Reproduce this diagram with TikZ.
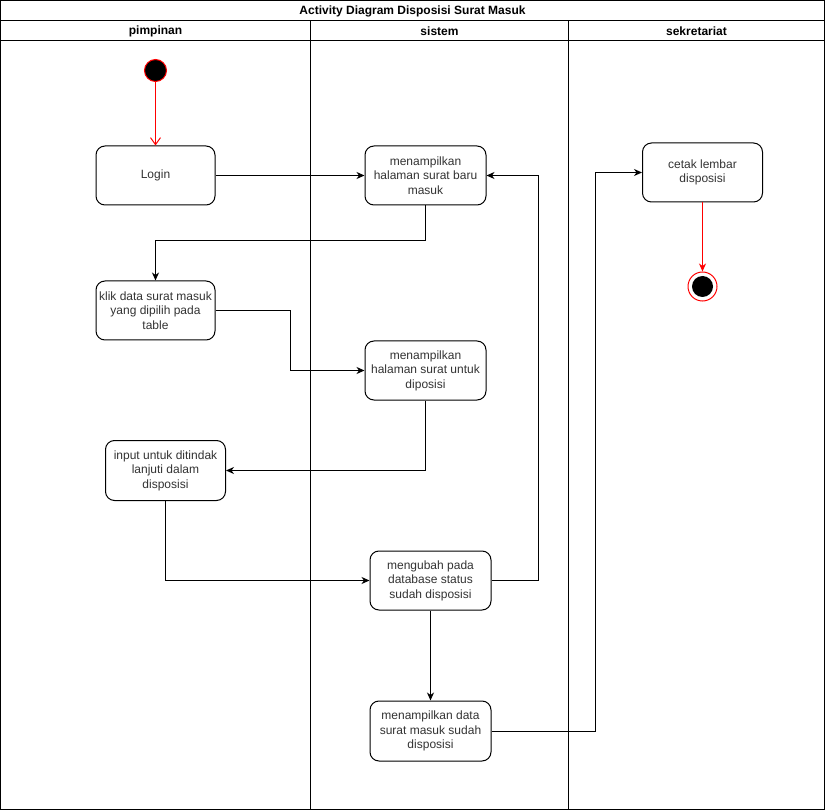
\documentclass[tikz,border=0pt]{standalone}
\usepackage{fontspec}
\setmainfont{Liberation Sans}
\usetikzlibrary{arrows.meta}
\definecolor{txt}{HTML}{333333}
\definecolor{dred}{HTML}{FF0000}
\tikzset{
  act/.style={draw=black, line width=1pt, rounded corners=9pt, fill=white, text=txt,
    align=center, font=\fontsize{12}{14.5}\selectfont, inner sep=0pt},
  arr/.style={draw=black, line width=1pt, -{Stealth[length=8pt,width=7pt,inset=2.5pt]}},
  redarr/.style={draw=dred, line width=1pt, -{Stealth[length=8pt,width=7pt,inset=2.5pt]}},
  openarr/.style={draw=dred, line width=1pt, -{Straight Barb[length=7pt,width=10pt]}},
  lane/.style={draw=black, line width=1pt},
  hdr/.style={font=\bfseries\fontsize{12}{14}\selectfont, text=black, inner sep=0pt}
}
\begin{document}
\begin{tikzpicture}[x=1pt,y=-1pt]
\useasboundingbox (0,0) rectangle (825,810);
% frame and lanes
\draw[lane] (0.5,0.5) rectangle (824.5,809.5);
\draw[lane] (0.5,20.5) -- (824.5,20.5);
\draw[lane] (0.5,40.5) -- (824.5,40.5);
\draw[lane] (310.5,20.5) -- (310.5,809.5);
\draw[lane] (568.5,20.5) -- (568.5,809.5);
\node[hdr] (title) at (412.5,11) {Activity Diagram Disposisi Surat Masuk};
\node[hdr] (l1) at (155.5,31) {pimpinan};
\node[hdr] (l2) at (439.5,31) {sistem};
\node[hdr] (l3) at (696.5,31) {sekretariat};
% start
\node[circle, draw=dred, fill=black, line width=1pt, minimum size=22pt, inner sep=0pt] (start) at (155.5,70.5) {};
% activities
\node[act, minimum width=119pt, minimum height=59pt] (login) at (155.5,175.5) {Login};
\node[act, minimum width=121pt, minimum height=59pt] (b2) at (425.5,175.5) {menampilkan\\halaman surat baru\\masuk};
\node[act, minimum width=119pt, minimum height=59pt] (klik) at (155.5,310.5) {klik data surat masuk\\yang dipilih pada\\table};
\node[act, minimum width=121pt, minimum height=59pt] (b3) at (425.5,370.5) {menampilkan\\halaman surat untuk\\diposisi};
\node[act, minimum width=120pt, minimum height=60pt] (input) at (165.5,470.5) {input untuk ditindak\\lanjuti dalam\\disposisi};
\node[act, minimum width=121pt, minimum height=59pt] (ubah) at (430.5,580.5) {mengubah pada\\database status\\sudah disposisi};
\node[act, minimum width=121pt, minimum height=60pt] (mdata) at (430.5,731) {menampilkan data\\surat masuk sudah\\disposisi};
\node[act, minimum width=120pt, minimum height=59pt] (cetak) at (702.5,172.5) {cetak lembar\\disposisi};
% end
\node[circle, draw=dred, fill=white, line width=1pt, minimum size=29pt, inner sep=0pt] (end) at (702.5,286.5) {};
\node[circle, fill=black, minimum size=21pt, inner sep=0pt] (endin) at (end.center) {};
% connectors
\draw[openarr] (start) -- (login.north);
\draw[arr] (login.east) -- (b2.west);
\draw[arr] (b2.south) -- ++(0,35) -| (klik.north);
\draw[arr] (klik.east) -- ++(75,0) |- (b3.west);
\draw[arr] (b3.south) |- (input.east);
\draw[arr] (input.south) |- (ubah.west);
\draw[arr] (ubah.east) -- ++(47,0) |- (b2.east);
\draw[arr] (ubah.south) -- (mdata.north);
\draw[arr] (mdata.east) -- ++(104,0) |- (cetak.west);
\draw[redarr] (cetak.south) -- (end.north);
\end{tikzpicture}
\end{document}
